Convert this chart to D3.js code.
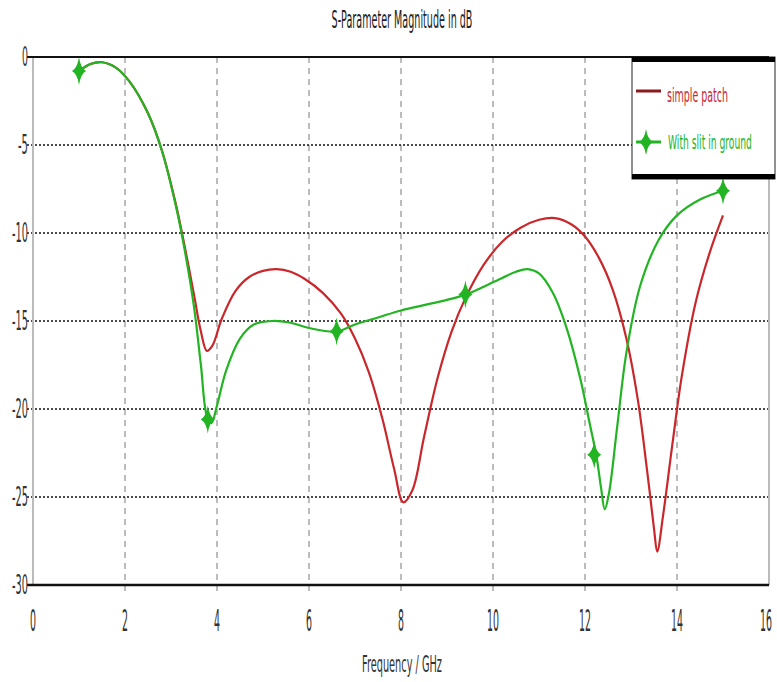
<!DOCTYPE html>
<html>
<head>
<meta charset="utf-8">
<script src="https://cdn.jsdelivr.net/npm/d3@7"></script>
<style>
  body { margin: 0; background: #fff; }
  text { font-family: "DejaVu Sans", sans-serif; }
</style>
</head>
<body>
<div id="chart"></div>
<script>
// chart values
const xTicks = [0, 2, 4, 6, 8, 10, 12, 14, 16];
const yTicks = [0, -5, -10, -15, -20, -25, -30];

const patchFreq = [1.0, 1.25, 1.5, 1.8, 2.1, 2.5, 2.8, 3.1, 3.3, 3.5, 3.65, 3.78, 3.9, 4.1, 4.4, 4.7, 5.0, 5.3, 5.6, 5.9, 6.3, 6.7, 7.0, 7.3, 7.6, 7.85, 8.05, 8.25, 8.5, 8.8, 9.1, 9.4, 9.8, 10.2, 10.6, 11.0, 11.35, 11.7, 12.0, 12.3, 12.6, 12.9, 13.15, 13.35, 13.5, 13.57, 13.7, 13.9, 14.1, 14.4, 14.7, 15.0];
const patchDb   = [-0.8, -0.4, -0.3, -0.6, -1.4, -3.2, -5.3, -8.3, -10.8, -13.5, -15.6, -16.7, -16.4, -14.9, -13.3, -12.5, -12.15, -12.05, -12.2, -12.6, -13.4, -14.6, -16.0, -17.9, -20.6, -23.4, -25.3, -24.6, -21.6, -18.2, -15.6, -13.7, -11.8, -10.5, -9.7, -9.25, -9.15, -9.5, -10.2, -11.4, -13.2, -16.0, -19.5, -23.5, -26.8, -28.1, -26.0, -22.0, -18.2, -14.0, -11.2, -9.0];

const slitFreq = [1.0, 1.25, 1.5, 1.8, 2.1, 2.5, 2.8, 3.1, 3.3, 3.5, 3.65, 3.78, 3.88, 4.0, 4.2, 4.5, 4.8, 5.2, 5.6, 6.0, 6.6, 7.0, 7.5, 8.0, 8.5, 9.0, 9.4, 9.8, 10.2, 10.5, 10.75, 11.0, 11.3, 11.6, 11.9, 12.1, 12.25, 12.35, 12.43, 12.52, 12.7, 12.9, 13.2, 13.6, 14.0, 14.5, 15.0];
const slitDb   = [-0.8, -0.4, -0.3, -0.6, -1.4, -3.2, -5.3, -8.4, -11.0, -14.2, -17.5, -20.4, -20.8, -19.8, -17.8, -16.0, -15.2, -15.0, -15.1, -15.4, -15.6, -15.2, -14.8, -14.4, -14.1, -13.8, -13.5, -13.05, -12.55, -12.2, -12.05, -12.3, -13.4, -15.4, -18.3, -20.8, -22.7, -24.5, -25.7, -24.8, -21.0, -16.8, -13.0, -10.4, -9.0, -8.1, -7.6];

const markerFreq = [1.0, 3.8, 6.6, 9.4, 12.2, 15.0];
const markerDb   = [-0.8, -20.6, -15.6, -13.5, -22.6, -7.6];

const seriesNames = ["simple patch", "With slit in ground"];
const seriesColors = ["#c8282c", "#22b422"];

const width = 777, height = 682;
const margin = {top: 57, right: 8, bottom: 97, left: 33};

let svg = d3.select("#chart").append("svg")
    .attr("width", width)
    .attr("height", height);

let x = d3.scaleLinear().domain([0, 16]).range([margin.left, width - margin.right]);
let y = d3.scaleLinear().domain([-30, 0]).range([height - margin.bottom, margin.top]);

// the original font is tall and very condensed: measure each text and squeeze it to its width
function narrow(g, tx, ty, str, size, w, anchor, color) {
    let t = g.append("text")
        .style("text-anchor", anchor)
        .style("font-size", size + "px")
        .attr("fill", color)
        .text(str);
    let sx = w / t.node().getComputedTextLength();
    t.attr("transform", `translate(${tx},${ty}) scale(${sx},1)`);
    return t;
}
const labelWidth = s => String(s).replace("-", "").length * 6 + (String(s).startsWith("-") ? 4 : 0);

// title
narrow(svg, 402, 28, "S-Parameter Magnitude in dB", 24, 141, "middle", "#222");

// vertical dashed grid
svg.append("g").selectAll("line")
    .data(xTicks.filter(d => d > 0 && d < 16))
    .enter().append("line")
    .attr("x1", d => x(d)).attr("x2", d => x(d))
    .attr("y1", y(0)).attr("y2", y(-30) + 6)
    .attr("stroke", "#999")
    .attr("stroke-width", 1.3)
    .attr("stroke-dasharray", "6,5");

// horizontal dotted grid
svg.append("g").selectAll("line")
    .data(yTicks.filter(d => d < 0 && d > -30))
    .enter().append("line")
    .attr("x1", x(0) - 6).attr("x2", x(16))
    .attr("y1", d => y(d)).attr("y2", d => y(d))
    .attr("stroke", "#111")
    .attr("stroke-width", 1.3)
    .attr("stroke-dasharray", "2,2");

// frame
svg.append("line").attr("x1", x(0)).attr("x2", x(0)).attr("y1", y(0)).attr("y2", y(-30))
    .attr("stroke", "#bbb").attr("stroke-width", 2);
svg.append("line").attr("x1", x(16)).attr("x2", x(16)).attr("y1", y(0)).attr("y2", y(-30))
    .attr("stroke", "#bbb").attr("stroke-width", 2);
svg.append("line").attr("x1", x(0) - 6).attr("x2", x(16)).attr("y1", y(0)).attr("y2", y(0))
    .attr("stroke", "#111").attr("stroke-width", 2);
svg.append("line").attr("x1", x(0) - 6).attr("x2", x(16)).attr("y1", y(-30)).attr("y2", y(-30))
    .attr("stroke", "#111").attr("stroke-width", 2.5);

// tick labels
let xLab = svg.append("g");
xTicks.forEach(d => narrow(xLab, Math.min(x(d), width - 11), 631, d, 30, labelWidth(d), "middle", "#333"));

let yLab = svg.append("g");
yTicks.forEach(d => narrow(yLab, 28, y(d) + 9, d, 26, labelWidth(d), "end", "#333"));

narrow(svg, 402, 672, "Frequency / GHz", 23, 80, "middle", "#333");

// curves
let line = d3.line()
    .x(d => x(d[0]))
    .y(d => y(d[1]))
    .curve(d3.curveCatmullRom.alpha(0.5));

let patch = d3.zip(patchFreq, patchDb);
let slit = d3.zip(slitFreq, slitDb);

svg.append("path").datum(patch)
    .attr("d", line)
    .attr("fill", "none")
    .attr("stroke", seriesColors[0])
    .attr("stroke-width", 2.2);

svg.append("path").datum(slit)
    .attr("d", line)
    .attr("fill", "none")
    .attr("stroke", seriesColors[1])
    .attr("stroke-width", 2.2);

// star diamond marker
function diamond(cx, cy, w, h) {
    let k = 0.22;
    return `M${cx},${cy - h}` +
        `Q${cx + w * k},${cy - h * k} ${cx + w},${cy}` +
        `Q${cx + w * k},${cy + h * k} ${cx},${cy + h}` +
        `Q${cx - w * k},${cy + h * k} ${cx - w},${cy}` +
        `Q${cx - w * k},${cy - h * k} ${cx},${cy - h}Z`;
}

svg.append("g").selectAll("path")
    .data(d3.zip(markerFreq, markerDb)).enter().append("path")
    .attr("d", d => diamond(x(d[0]), y(d[1]), 7, 14))
    .attr("fill", seriesColors[1]);

// legend
let lg = svg.append("g").attr("transform", "translate(632,57)");
lg.append("rect").attr("x", 0).attr("y", 0).attr("width", 143).attr("height", 122)
    .attr("fill", "#fff").attr("stroke", "#222").attr("stroke-width", 1);
lg.append("rect").attr("x", 0).attr("y", 0).attr("width", 143).attr("height", 5).attr("fill", "#000");
lg.append("rect").attr("x", 0).attr("y", 117).attr("width", 143).attr("height", 5).attr("fill", "#000");

lg.append("line").attr("x1", 4).attr("x2", 29).attr("y1", 34).attr("y2", 34)
    .attr("stroke", "#8a1a1e").attr("stroke-width", 3);
narrow(lg, 35, 45, seriesNames[0], 19, 61, "start", seriesColors[0]);

lg.append("line").attr("x1", 4).attr("x2", 29).attr("y1", 85).attr("y2", 85)
    .attr("stroke", seriesColors[1]).attr("stroke-width", 3);
lg.append("path").attr("d", diamond(14, 85, 7, 13)).attr("fill", seriesColors[1]);
narrow(lg, 36, 92, seriesNames[1], 19, 84, "start", seriesColors[1]);
</script>
</body>
</html>
